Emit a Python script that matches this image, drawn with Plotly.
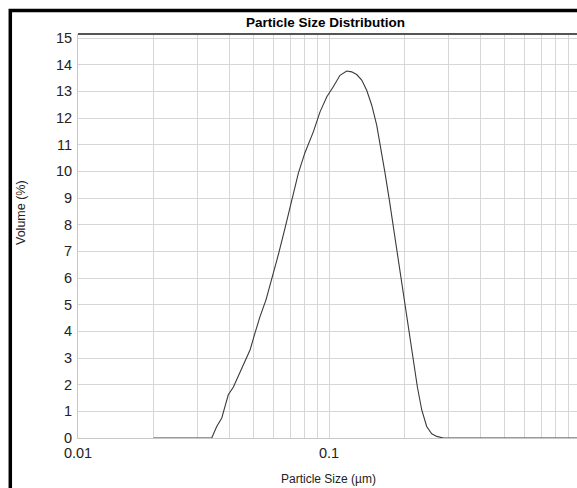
import plotly.graph_objects as go

# ---- data ----
particle_size_um = [0.02, 0.0341, 0.0357, 0.0374, 0.0385, 0.0397, 0.0416, 0.0435, 0.0456,
                    0.0485, 0.0507, 0.0531, 0.0561, 0.0591, 0.0628, 0.0668, 0.0710, 0.0755,
                    0.0802, 0.0866, 0.0921, 0.0979, 0.1040, 0.1106, 0.1176, 0.1231, 0.1289,
                    0.1350, 0.1413, 0.1480, 0.1549, 0.1597, 0.1672, 0.1739, 0.1804, 0.1872,
                    0.1931, 0.1990, 0.2027, 0.2089, 0.2167, 0.2248, 0.2340, 0.2450, 0.2566,
                    0.2686, 0.2854, 1.0]
volume_pct = [0, 0, 0.43, 0.75, 1.18, 1.62, 1.91, 2.31, 2.75,
              3.31, 3.93, 4.55, 5.18, 5.93, 6.87, 7.87, 8.93, 9.93,
              10.7, 11.48, 12.23, 12.79, 13.17, 13.6, 13.76, 13.73, 13.63,
              13.42, 13.04, 12.48, 11.73, 11.05, 9.93, 8.93, 7.93, 6.93,
              6.05, 5.25, 4.85, 3.93, 2.93, 1.93, 1.06, 0.43, 0.16,
              0.06, 0, 0]

x_tick_vals = [0.01, 0.02, 0.03, 0.04, 0.05, 0.06, 0.07, 0.08, 0.09,
               0.1, 0.2, 0.3, 0.4, 0.5, 0.6, 0.7, 0.8, 0.9, 1.0]
x_tick_text = ["0.01", "", "", "", "", "", "", "", "",
               "0.1", "", "", "", "", "", "", "", "", "1"]
y_tick_vals = list(range(0, 16))
y_tick_text = [str(v) for v in y_tick_vals]

TITLE = "Particle Size Distribution"
X_TITLE = "Particle Size (µm)"
Y_TITLE = "Volume (%)"

FONT = "Liberation Sans, Arial, sans-serif"
GRID = "#d6d6d6"

fig = go.Figure()
fig.add_trace(go.Scatter(
    x=particle_size_um, y=volume_pct, mode="lines",
    line=dict(color="#3a3a3a", width=1.1),
    showlegend=False, cliponaxis=False,
))

fig.update_layout(
    width=577, height=488,
    margin=dict(l=78, r=0, t=34, b=50),
    paper_bgcolor="white", plot_bgcolor="white",
    font=dict(family=FONT, size=14, color="black"),
    xaxis=dict(
        type="log", range=[-2, -0.012],
        tickvals=x_tick_vals, ticktext=x_tick_text,
        showgrid=True, gridcolor=GRID, gridwidth=1,
        showline=True, linecolor="#c8c8c8", linewidth=1,
        ticks="", zeroline=False,
        tickfont=dict(family=FONT, size=14.5, color="#222"),
        ticklabelstandoff=2,
    ),
    yaxis=dict(
        range=[0, 15.15],
        tickvals=y_tick_vals, ticktext=y_tick_text,
        showgrid=True, gridcolor=GRID, gridwidth=1,
        showline=True, linecolor="#c8c8c8", linewidth=1,
        ticks="", zeroline=False,
        tickfont=dict(family=FONT, size=14.5, color="#222"),
        ticklabelstandoff=2,
    ),
    shapes=[
        # dark top border of plot area
        dict(type="line", xref="paper", yref="paper", x0=0, x1=1.05, y0=1, y1=1,
             line=dict(color="#555555", width=2)),
        # thick black outer frame (left and top visible)
        dict(type="rect", xref="paper", yref="paper",
             x0=(10.3 - 78) / 499, x1=1.2, y0=-0.2, y1=(438 - 10.5) / 404,
             line=dict(color="black", width=3.5), fillcolor="rgba(0,0,0,0)"),
    ],
    annotations=[
        dict(text="<b>" + TITLE + "</b>", xref="paper", yref="paper",
             x=(325 - 78) / 499, y=(438 - 23) / 404, xanchor="center", yanchor="middle",
             showarrow=False, font=dict(family=FONT, size=13.5, color="black")),
        dict(text=X_TITLE, xref="paper", yref="paper",
             x=(328 - 78) / 499, y=(438 - 479) / 404, xanchor="center", yanchor="middle",
             showarrow=False, font=dict(family=FONT, size=12, color="#222")),
        dict(text=Y_TITLE, xref="paper", yref="paper", textangle=-90,
             x=(21 - 78) / 499, y=(438 - 213) / 404, xanchor="center", yanchor="middle",
             showarrow=False, font=dict(family=FONT, size=12.5, color="#222")),
    ],
)

fig.write_html("out.html", config={"displayModeBar": False},
               post_script="document.body.style.margin='0';")
